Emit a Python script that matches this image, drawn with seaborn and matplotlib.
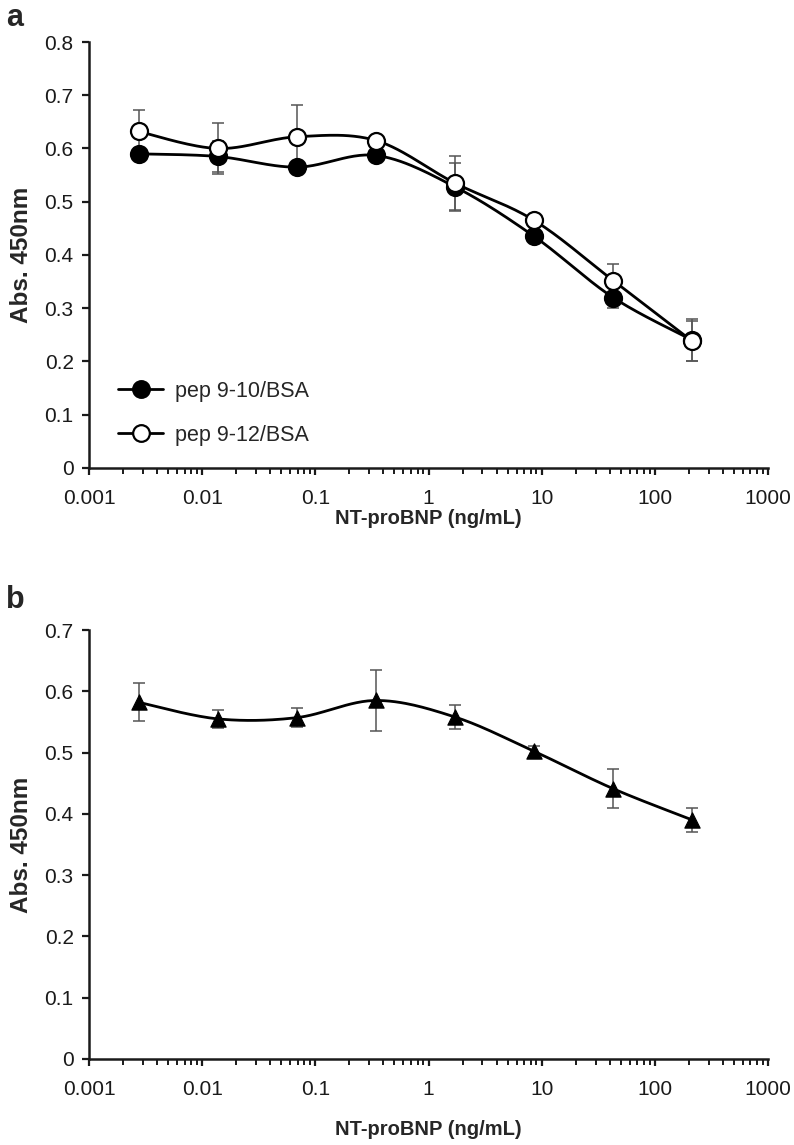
import numpy as np
import matplotlib
matplotlib.use("Agg")
import matplotlib.pyplot as plt
import seaborn as sns
from matplotlib.ticker import LogLocator, FixedLocator, NullFormatter

sns.set_theme(style="ticks")
plt.rcParams['font.family'] = ['Liberation Sans', 'DejaVu Sans']

# Data
conc = [0.002744, 0.01372, 0.0686, 0.343, 1.715, 8.576, 42.88, 214.4]
pep910 = [0.590, 0.585, 0.565, 0.587, 0.528, 0.435, 0.320, 0.240]
pep910_err = [0.010, 0.030, 0.006, 0.006, 0.045, 0.010, 0.020, 0.040]
pep912 = [0.632, 0.600, 0.622, 0.615, 0.535, 0.465, 0.352, 0.238]
pep912_err = [0.041, 0.048, 0.060, 0.005, 0.050, 0.010, 0.032, 0.038]
panel_b = [0.582, 0.555, 0.557, 0.585, 0.558, 0.502, 0.441, 0.390]
panel_b_err = [0.031, 0.015, 0.015, 0.050, 0.020, 0.008, 0.032, 0.020]
xticks = [0.001, 0.01, 0.1, 1, 10, 100, 1000]
xticklabels = ['0.001', '0.01', '0.1', '1', '10', '100', '1000']
labels = ['pep 9-10/BSA', 'pep 9-12/BSA']


def smooth(xs, ys, n=30):
    """Catmull-Rom style smoothing in log-x space (like Excel smoothed lines)."""
    lx = np.log10(np.asarray(xs))
    y = np.asarray(ys)
    px, py = [], []
    m = len(lx)
    for i in range(m - 1):
        p0 = (lx[max(i - 1, 0)], y[max(i - 1, 0)])
        p1 = (lx[i], y[i])
        p2 = (lx[i + 1], y[i + 1])
        p3 = (lx[min(i + 2, m - 1)], y[min(i + 2, m - 1)])
        t = np.linspace(0, 1, n)
        c1 = (p1[0] + (p2[0] - p0[0]) / 6, p1[1] + (p2[1] - p0[1]) / 6)
        c2 = (p2[0] - (p3[0] - p1[0]) / 6, p2[1] - (p3[1] - p1[1]) / 6)
        bx = (1 - t) ** 3 * p1[0] + 3 * (1 - t) ** 2 * t * c1[0] + 3 * (1 - t) * t ** 2 * c2[0] + t ** 3 * p2[0]
        by = (1 - t) ** 3 * p1[1] + 3 * (1 - t) ** 2 * t * c1[1] + 3 * (1 - t) * t ** 2 * c2[1] + t ** 3 * p2[1]
        px.extend(bx)
        py.extend(by)
    return 10 ** np.array(px), np.array(py)


fig = plt.figure(figsize=(7.94, 11.45), dpi=100)
ax1 = fig.add_axes([89 / 794, 1 - 468 / 1145, (768 - 89) / 794, (468 - 42) / 1145])
ax2 = fig.add_axes([89 / 794, 1 - 1059 / 1145, (768 - 89) / 794, (1059 - 630) / 1145])


def style_axis(ax, ymax, xlabelpad):
    ax.set_xscale('log')
    ax.set_xlim(0.001, 1000)
    ax.set_ylim(0, ymax)
    ax.set_yticks(np.round(np.arange(0, ymax + 0.001, 0.1), 1))
    ax.set_yticklabels(['0'] + [f'{v:.1f}' for v in np.arange(0.1, ymax + 0.001, 0.1)])
    ax.xaxis.set_major_locator(FixedLocator(xticks))
    ax.set_xticklabels(xticklabels)
    ax.xaxis.set_minor_locator(LogLocator(base=10, subs=np.arange(2, 10)))
    ax.xaxis.set_minor_formatter(NullFormatter())
    for s in ['top', 'right']:
        ax.spines[s].set_visible(False)
    for s in ['left', 'bottom']:
        ax.spines[s].set_linewidth(1.8)
        ax.spines[s].set_color('#1a1a1a')
    ax.tick_params(axis='both', which='major', direction='out', length=5, width=1.6,
                   labelsize=15, colors='#1a1a1a', pad=6)
    ax.tick_params(axis='x', which='minor', direction='out', length=4, width=1.4, colors='#1a1a1a')
    ax.tick_params(axis='x', which='major', pad=10)
    ax.set_xlabel('NT-proBNP (ng/mL)', fontsize=14.5, fontweight='bold', labelpad=xlabelpad)
    ax.set_ylabel('Abs. 450nm', fontsize=17.5, fontweight='bold', labelpad=8)
    ax.grid(False)


# Panel a
for ys, errs, fc, lab in [(pep910, pep910_err, 'black', labels[0]),
                          (pep912, pep912_err, 'white', labels[1])]:
    sx, sy = smooth(conc, ys)
    sns.lineplot(x=sx, y=sy, ax=ax1, color='black', lw=2, sort=False, estimator=None, zorder=2)
    ax1.errorbar(conc, ys, yerr=errs, fmt='none', ecolor='#555555', elinewidth=1.1,
                 capsize=4, capthick=1.1, zorder=1)
    sns.scatterplot(x=conc, y=ys, ax=ax1, s=150, color=fc, edgecolor='black',
                    linewidth=1.6, zorder=3)
    ax1.plot([], [], color='black', lw=2, marker='o', markersize=12,
             markerfacecolor=fc, markeredgecolor='black', markeredgewidth=1.6, label=lab)

style_axis(ax1, 0.8, 1)
leg = ax1.legend(loc='lower left', bbox_to_anchor=(0.043, 0.052), frameon=False, fontsize=15.5,
                 handlelength=2.1, labelspacing=1.08, handletextpad=0.55,
                 borderpad=0, borderaxespad=0)

# Panel b
sx, sy = smooth(conc, panel_b)
sns.lineplot(x=sx, y=sy, ax=ax2, color='black', lw=2, sort=False, estimator=None, zorder=2)
ax2.errorbar(conc, panel_b, yerr=panel_b_err, fmt='none', ecolor='#555555', elinewidth=1.1,
             capsize=4, capthick=1.1, zorder=1)
sns.scatterplot(x=conc, y=panel_b, ax=ax2, s=120, marker='^', color='black',
                edgecolor='black', zorder=3)
style_axis(ax2, 0.7, 15)

fig.text(0.008, 1 - 18 / 1145, 'a', fontsize=22, fontweight='bold', va='center')
fig.text(0.008, 1 - 600 / 1145, 'b', fontsize=22, fontweight='bold', va='center')

fig.savefig('out.png', dpi=100, facecolor='white')
